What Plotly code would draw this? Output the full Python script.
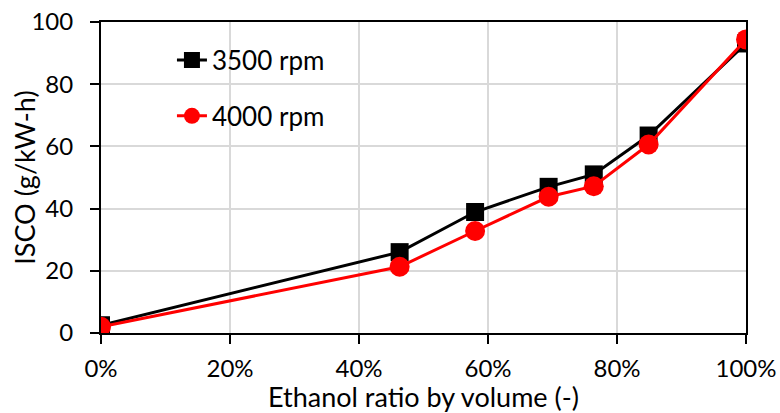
import plotly.graph_objects as go

ethanol = [0, 46.3, 58.0, 69.4, 76.4, 84.9, 100]
isco_3500 = [2.5, 26.0, 38.9, 47.0, 51.0, 63.5, 93.1]
isco_4000 = [2.0, 21.3, 32.8, 43.8, 47.2, 60.6, 94.4]
x_ticks = [0, 20, 40, 60, 80, 100]
x_labels = ["0%", "20%", "40%", "60%", "80%", "100%"]
y_ticks = [0, 20, 40, 60, 80, 100]

FONT = "Lato"

fig = go.Figure()
fig.add_trace(go.Scatter(
    x=ethanol, y=isco_3500, mode="lines+markers", name="3500 rpm",
    legendgroup="a",
    line=dict(color="black", width=3),
    marker=dict(symbol="square", size=18, color="black"),
))
fig.add_trace(go.Scatter(
    x=ethanol, y=isco_4000, mode="lines+markers", name="4000 rpm",
    legendgroup="b",
    line=dict(color="#ff0000", width=3),
    marker=dict(symbol="circle", size=20, color="#ff0000"),
))

fig.update_layout(
    width=780, height=413,
    margin=dict(l=101, r=34, t=22, b=80, autoexpand=False),
    plot_bgcolor="white", paper_bgcolor="white",
    font=dict(family=FONT, size=24, color="black"),
    showlegend=True,
    legend=dict(
        x=0.11, y=0.953, xanchor="left", yanchor="top",
        bgcolor="rgba(0,0,0,0)", font=dict(family=FONT, size=26),
        tracegroupgap=19,
    ),
    xaxis=dict(
        range=[0, 100], tickvals=x_ticks, ticktext=x_labels,
        showline=True, linecolor="black", linewidth=2, mirror=True,
        ticks="outside", ticklen=9, tickwidth=2, tickcolor="black",
        showgrid=True, gridcolor="#d9d9d9", gridwidth=1.5,
        zeroline=False, ticklabelstandoff=4, automargin=False,
        tickfont=dict(family=FONT, size=24),
        title=dict(text="Ethanol ratio by volume (-)", font=dict(family=FONT, size=27), standoff=0),
    ),
    yaxis=dict(
        range=[0, 100], tickvals=y_ticks,
        showline=True, linecolor="black", linewidth=2, mirror=True,
        ticks="outside", ticklen=9, tickwidth=2, tickcolor="black",
        showgrid=True, gridcolor="#d9d9d9", gridwidth=1.5,
        zeroline=False, ticklabelstandoff=12, automargin=False,
        tickfont=dict(family=FONT, size=24),
    ),
    annotations=[dict(
        text="ISCO (g/kW-h)", textangle=-90, showarrow=False,
        xref="paper", yref="paper", x=-0.119, y=0.5,
        xanchor="center", yanchor="middle",
        font=dict(family=FONT, size=27, color="black"),
    )],
)

fig.write_html("out.html")
